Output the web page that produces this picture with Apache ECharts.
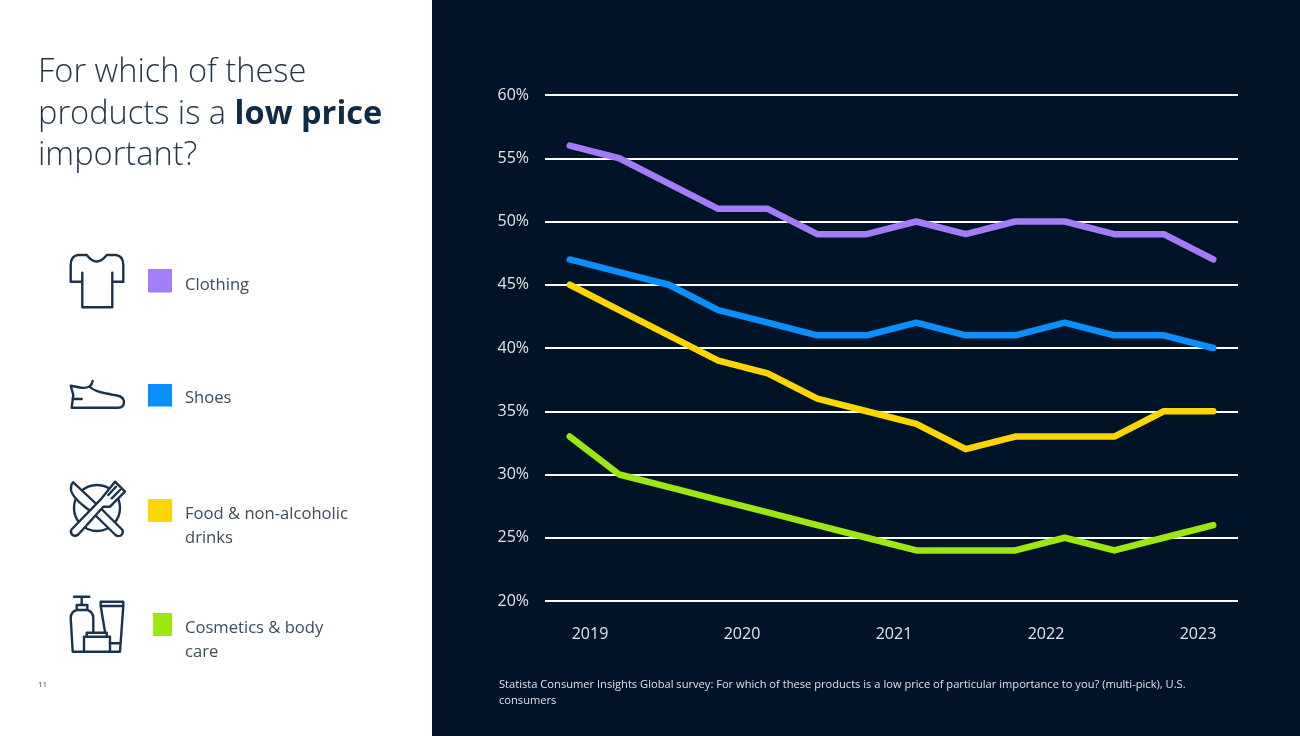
<!DOCTYPE html>
<html><head><meta charset="utf-8">
<style>html,body{margin:0;padding:0;background:#fff}#c{width:1300px;height:736px}</style>
<script src="https://cdn.jsdelivr.net/npm/echarts@6/dist/echarts.min.js"></script>
</head><body><div id="c"></div>
<script>
const waves = ['W1','W2','W3','W4','W5','W6','W7','W8','W9','W10','W11','W12','W13','W14'];
const yearTicks = [2019,2020,2021,2022,2023];
const clothing = [56,55,53,51,51,49,49,50,49,50,50,49,49,47];
const shoes = [47,46,45,43,42,41,41,42,41,41,42,41,41,40];
const food = [45,43,41,39,38,36,35,34,32,33,33,33,35,35];
const cosmetics = [33,30,29,28,27,26,25,24,24,24,25,24,25,26];
const colors = ['#A47BF8','#0A8FFF','#FFD500','#9BE913'];
const FONT = '"Open Sans", "Noto Sans", sans-serif';
const DARK = '#001327', INK = '#1B324B';

const chart = echarts.init(document.getElementById('c'), null, {renderer:'canvas'});
const line = (name, data, color) => ({
  name, type:'line', data, xAxisIndex:0, yAxisIndex:0, showSymbol:false, symbol:'none', smooth:false,
  lineStyle:{color, width:6.5, cap:'round', join:'round'}, z:5, animation:false
});
let iconCount = 0;
const icon = (pathData, fill) => {
  const t = 'iconShape' + (iconCount++);
  echarts.graphic.registerShape(t, echarts.graphic.extendPath(pathData, {}));
  return {type:t, style:{fill:fill||'none', stroke:INK, lineWidth:2.4, lineCap:'round', lineJoin:'round'}, z:3};
};
const swatch = (x,y,w,h,fill) => ({type:'rect', shape:{x,y,width:w,height:h}, style:{fill}, z:3});
const label = (x,y,text) => ({type:'text', x, y, style:{text, font:'16.6px '+FONT, fill:'#3A4C60', lineHeight:24, textVerticalAlign:'top'}, z:3});

chart.setOption({
  animation:false,
  backgroundColor:'#ffffff',
  grid:{left:545, top:95, width:693, height:506, containLabel:false},
  xAxis:[
    {type:'category', data:waves, boundaryGap:true, axisLine:{show:false}, axisTick:{show:false}, axisLabel:{show:false}, splitLine:{show:false}},
    {type:'value', position:'bottom', min:2018.704, max:2023.263, axisLine:{show:false}, axisTick:{show:false}, splitLine:{show:false},
     axisLabel:{customValues:yearTicks, formatter:v=>String(Math.round(v)), color:'#E3E6E9', fontFamily:FONT, fontSize:16, margin:25, showMinLabel:true, showMaxLabel:true}}
  ],
  yAxis:{type:'value', min:20, max:60, interval:5, axisLine:{show:false}, axisTick:{show:false},
    axisLabel:{formatter:'{value}%', color:'#E3E6E9', fontFamily:FONT, fontSize:16, margin:16},
    splitLine:{show:true, lineStyle:{color:'#ffffff', width:2}}},
  series:[line('Clothing',clothing,colors[0]), line('Shoes',shoes,colors[1]), line('Food & non-alcoholic drinks',food,colors[2]), line('Cosmetics & body care',cosmetics,colors[3])],
  graphic:{elements:[
    {type:'rect', shape:{x:432,y:0,width:868,height:736}, style:{fill:DARK}, z:-10, silent:true},
    {type:'text', x:38, y:52, z:3, style:{
      rich:{n:{font:'300 32.6px '+FONT, fill:'#1F3349', lineHeight:41.5}, b:{font:'700 32.6px '+FONT, fill:'#0F2A45', lineHeight:41.5}},
      text:'{n|For which of these}\n{n|products is a }{b|low price}\n{n|important?}', textVerticalAlign:'top'}},
    swatch(148,269,24,23.5,colors[0]), swatch(148,384,24,22.5,colors[1]), swatch(148,499,24,23,colors[2]), swatch(153,613,19,23,colors[3]),
    label(185,273,'Clothing'), label(185,386,'Shoes'), label(185,502,'Food & non-alcoholic\ndrinks'), label(185,616,'Cosmetics & body\ncare'),
    {type:'text', x:38, y:681, z:3, style:{text:'11', font:'8px '+FONT, fill:'#3A4C60'}},
    {type:'text', x:499, y:677, z:3, style:{text:'Statista Consumer Insights Global survey: For which of these products is a low price of particular importance to you? (multi-pick), U.S.\nconsumers', font:'11.13px '+FONT, fill:'#DDE1E5', lineHeight:16}},
    // T-shirt
    icon('M86.7 255 Q96.7 268 106.7 255 L116 255 Q123.3 256 123.3 265 L123.3 281.7 L112.3 281.7 M112.3 272.7 L112.3 307.3 L82.3 307.3 L82.3 272.7 M82.3 281.7 L70.7 281.7 L70.7 265 Q70.7 256 78 255 L86.7 255'),
    // Shoe
    icon('M70.7 385.7 L80 387.5 Q86 388.5 89.5 386.5 Q92 384.5 92.7 381 M89.5 386.5 Q93 390 100 392 Q110 394.5 117 395.5 Q124 397 124 402 Q124 407.7 118 407.7 L71.7 407.7 L73.3 395 L70.7 385.7 M72.5 399 L81.7 399'),
    // Plate, knife and fork
    {type:'circle', shape:{cx:97,cy:508,r:23}, style:{fill:'none',stroke:INK,lineWidth:2.4}, z:3},
    icon('M73.3 482.3 L98.5 506 L122.5 530 Q123.5 533 121 535.5 Q118 537 115.5 535 L93 513 L85 507 Q70 495 71 488 Q71 484 73.3 482.3 Z','#ffffff'),
    icon('M71.5 529.5 L101.7 498.3 L115 481.7 L125 491.7 L110 506.7 L103.3 506.7 L78.3 534.5 Q75 537 72 534.5 Q70 532 71.5 529.5 Z M108.3 495 L116 486.7 M111.7 498.3 L120 490','#ffffff'),
    // Cosmetics
    icon('M74 596.7 L89.3 596.7 M81.7 596.7 L81.7 605 M76.7 605 L87.3 605 L87.3 610 Q93.3 612 93.3 618 L93.3 632.7 M76.7 605 L76.7 610 Q70.7 612 70.7 618 L72.7 651.7 L84 651.7 M76.7 610 L87.3 610'),
    icon('M105 631.7 L100.7 606 L100.7 601.7 L123.3 601.7 L123.3 606 L120 651.7 L110 651.7 M100.7 606 L123.3 606 M110 643.3 L120.5 643.3'),
    icon('M84 636.7 L110 636.7 L110 651.7 L84 651.7 Z M86.7 636.7 L86.7 632.7 L106.7 632.7 L106.7 636.7')
  ]}
});
</script></body></html>
